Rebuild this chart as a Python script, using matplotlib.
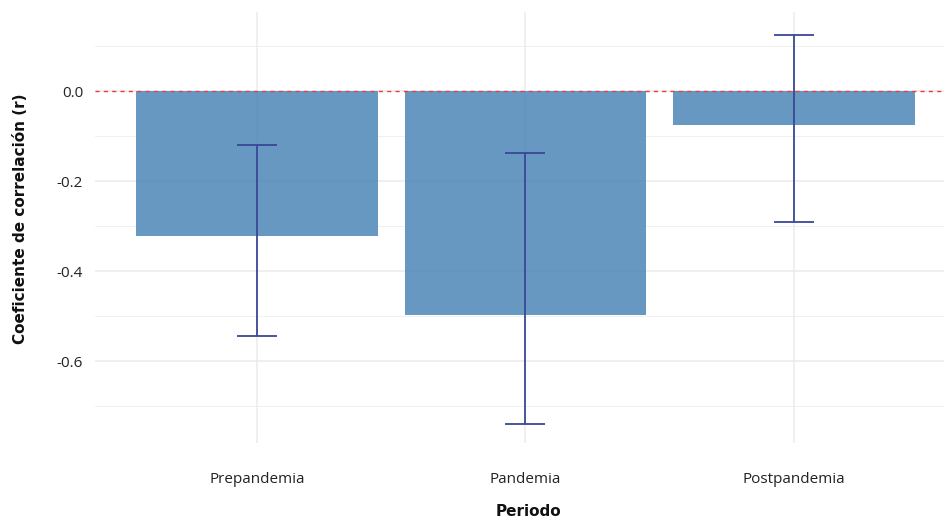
import matplotlib
matplotlib.use("Agg")
import matplotlib.pyplot as plt
import numpy as np

categories = ["Prepandemia", "Pandemia", "Postpandemia"]
r_values = [-0.322, -0.498, -0.076]
ci_lower = [-0.544, -0.740, -0.291]
ci_upper = [-0.120, -0.138, 0.124]
y_ticks = [0.0, -0.2, -0.4, -0.6]
y_ticklabels = ["0.0", "-0.2", "-0.4", "-0.6"]

plt.rcParams['font.family'] = ['Open Sans', 'DejaVu Sans']

W, H = 944, 520
fig = plt.figure(figsize=(W / 100, H / 100), dpi=100)
left, right, top, bottom = 95, 944, 12, 443
ax = fig.add_axes([left / W, 1 - bottom / H, (right - left) / W, (bottom - top) / H])

x = np.arange(1, len(categories) + 1)
r = np.array(r_values)
lo = np.array(ci_lower)
hi = np.array(ci_upper)

# grid
for yv in [0.1, -0.1, -0.3, -0.5, -0.7]:
    ax.axhline(yv, color="#F0F0F0", lw=0.7, zorder=0)
for yv in y_ticks:
    ax.axhline(yv, color="#EBEBEB", lw=1.1, zorder=0)
for xv in x:
    ax.axvline(xv, color="#EBEBEB", lw=1.1, zorder=0)

ax.bar(x, r, width=0.9, color="#4682B4", alpha=0.82, zorder=2)
ax.errorbar(x, r, yerr=[r - lo, hi - r], fmt="none", ecolor="#3A4796",
            elinewidth=1.3, capsize=14.4, capthick=1.3, zorder=3)
ax.axhline(0, color="#E8413C", lw=1.0, ls=(0, (3, 3)), zorder=4)

ax.set_xlim(0.397, 3.559)
ax.set_ylim(-0.782, 0.1756)
ax.set_xticks(x)
ax.set_xticklabels(categories, fontsize=11, color="#222222")
ax.set_yticks(y_ticks)
ax.set_yticklabels(y_ticklabels, fontsize=11, color="#222222")
ax.tick_params(length=0)
ax.tick_params(axis='y', pad=8.5)
ax.tick_params(axis='x', pad=21)
for s in ax.spines.values():
    s.set_visible(False)

bold_family = ['DejaVu Sans']
fig.text(528 / W, 1 - 511 / H, "Periodo", fontsize=11, fontweight="bold",
         family=bold_family, ha="center", va="center", color="#111111")
fig.text(21 / W, 1 - 219 / H, "Coeficiente de correlación (r)", fontsize=11,
         fontweight="bold", family=bold_family, ha="center", va="center",
         rotation=90, color="#111111")

fig.savefig("out.png", dpi=100)
